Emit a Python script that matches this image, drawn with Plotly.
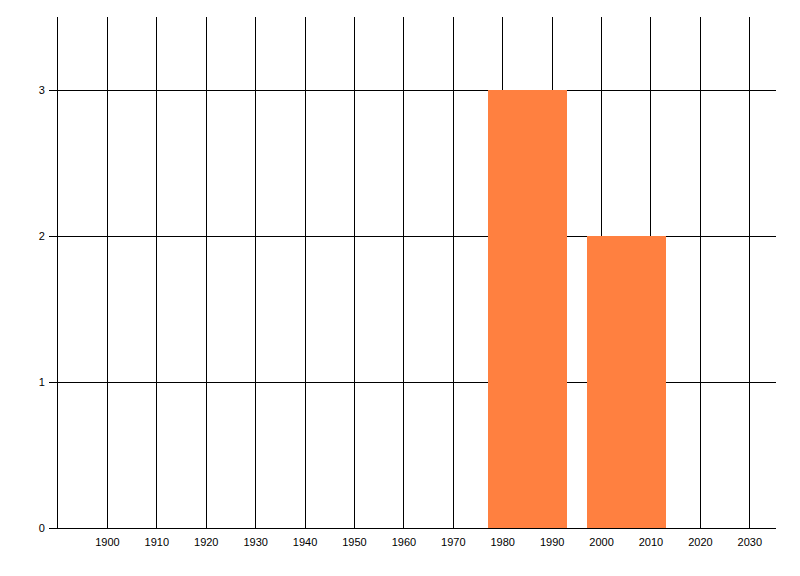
import plotly.graph_objects as go

decades = [1985, 2005]
counts = [3, 2]
bar_width = [16, 16]
x_ticks = [1900, 1910, 1920, 1930, 1940, 1950, 1960, 1970, 1980, 1990, 2000, 2010, 2020, 2030]
y_ticks = [0, 1, 2, 3]

fig = go.Figure(go.Bar(x=decades, y=counts, width=bar_width,
                       marker=dict(color="#FF8040", line=dict(width=0))))

fig.update_layout(
    width=800, height=576,
    margin=dict(l=50, r=32, t=9, b=56),
    paper_bgcolor="white", plot_bgcolor="white",
    showlegend=False,
    font=dict(family="Liberation Sans, Arial, sans-serif", size=11, color="black"),
    bargap=0,
)
fig.update_xaxes(range=[1890, 2035.3], tickvals=x_ticks, ticktext=[str(v) for v in x_ticks],
                 showgrid=True, gridcolor="black", gridwidth=1,
                 showline=True, linecolor="black", linewidth=1,
                 ticks="", zeroline=False, ticklabelstandoff=4)
fig.update_yaxes(range=[0, 3.5], tickvals=y_ticks,
                 showgrid=True, gridcolor="black", gridwidth=1,
                 showline=True, linecolor="black", linewidth=1,
                 ticks="outside", ticklen=8, tickcolor="black", tickwidth=1,
                 zeroline=False, ticklabelstandoff=2)

fig.write_html("out.html")
